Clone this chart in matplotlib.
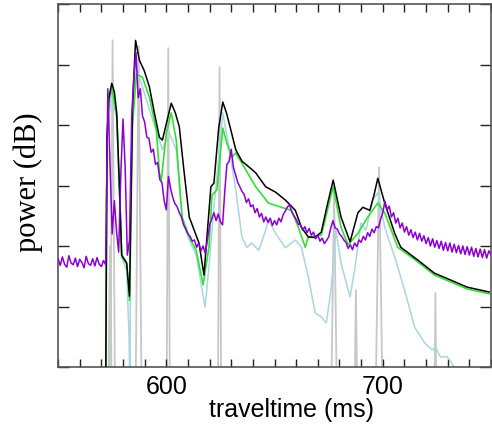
import numpy as np
import matplotlib.pyplot as plt
from matplotlib.ticker import MultipleLocator, NullFormatter

# --- data (traveltime in ms, power in dB) ---
black_t = [572.0, 572.6, 573.5, 574.8, 576.0, 577.1, 578.4, 579.4, 581.7, 583.0,
           584.4, 585.8, 587.6, 589.8, 592.2, 594.5, 596.8, 598.2, 600.2, 602.3,
           604.2, 606.0, 608.3, 610.6, 615.1, 617.4, 620.6, 622.0, 624.2, 626.1,
           627.8, 629.8, 632.1, 635.0, 638.1, 641.3, 645.9, 650.5, 655.0, 659.6,
           662.4, 665.6, 668.5, 671.6, 674.5, 677.1, 680.7, 684.9, 688.5, 690.8,
           694.0, 696.0, 697.7, 700.9, 705.5, 708.3, 716.1, 723.9, 731.2, 739.0,
           749.1]
black_db = [-5.0, 38.0, 44.5, 46.9, 45.5, 42.0, 29.3, 18.5, 17.2, 11.7,
            43.0, 54.0, 50.7, 49.0, 46.3, 42.0, 38.0, 37.5, 40.5, 43.6,
            42.0, 39.7, 32.0, 24.8, 20.5, 15.2, 29.8, 30.4, 39.5, 43.8,
            42.0, 39.2, 35.9, 34.0, 33.1, 32.1, 29.8, 28.9, 27.6, 25.9,
            23.1, 21.5, 21.4, 22.3, 27.0, 30.9, 24.8, 20.7, 25.5, 26.4,
            25.9, 28.5, 31.2, 27.1, 22.1, 19.8, 17.7, 15.5, 14.4, 13.2,
            12.4]

green_t = [572.0, 572.6, 573.5, 574.8, 577.1, 578.4, 579.4, 581.7, 583.0, 584.4,
           586.2, 589.0, 592.2, 595.4, 596.8, 597.7, 600.0, 602.3, 604.6, 607.3,
           610.6, 613.8, 617.0, 619.7, 621.1, 623.4, 626.1, 628.0, 630.3, 632.1,
           634.9, 641.3, 647.2, 653.2, 657.8, 661.0, 664.2, 665.6, 671.6, 674.5,
           677.1, 680.7, 684.0, 688.5, 693.1, 697.7, 700.9, 706.9, 716.1, 723.9,
           739.0, 749.1]
green_db = [-5.0, 38.0, 44.0, 46.0, 41.5, 29.0, 18.3, 17.0, 11.0, 40.0,
            48.4, 47.9, 44.6, 39.2, 32.1, 30.9, 38.7, 42.0, 37.5, 24.8,
            21.5, 19.3, 13.6, 19.8, 28.4, 29.3, 39.5, 37.0, 34.7, 35.4,
            33.7, 29.8, 27.1, 26.4, 25.9, 23.1, 19.8, 21.5, 21.8, 26.0,
            29.8, 23.1, 20.2, 22.1, 24.8, 27.1, 25.5, 19.8, 17.4, 15.2,
            12.9, 12.1]

blue_t = [572.0, 572.6, 574.8, 577.1, 578.4, 579.4, 581.7, 582.8, 583.2, 583.6,
          584.4, 585.8, 587.6, 592.2, 598.2, 601.4, 604.6, 607.3, 610.6, 613.8,
          617.9, 619.7, 622.0, 626.1, 628.9, 632.1, 634.9, 637.2, 639.4, 642.7,
          645.9, 647.2, 650.5, 655.0, 659.6, 662.4, 665.6, 668.8, 671.6, 673.9,
          676.1, 678.0, 678.4, 680.7, 684.9, 687.2, 689.9, 692.2, 695.4, 697.7,
          700.9, 705.5, 710.1, 714.7, 719.3, 722.9, 724.3, 726.6, 729.8, 733.0,
          734.4]
blue_db = [-5.0, 38.0, 45.5, 41.0, 28.5, 18.0, 16.0, 5.0, -5.0, 30.0,
           42.0, 50.0, 47.9, 42.5, 35.9, 38.7, 35.9, 24.3, 21.0, 18.5,
           9.9, 16.5, 26.4, 42.0, 36.4, 29.3, 21.5, 19.8, 20.5, 19.3,
           22.6, 24.3, 22.1, 19.7, 21.0, 19.8, 14.9, 8.9, 8.3, 7.3,
           12.7, 21.0, 22.6, 17.2, 11.6, 16.5, 23.8, 22.6, 27.6, 28.8,
           23.1, 18.2, 12.7, 6.6, 4.0, 2.8, 3.3, 1.7, 1.7, 0.0,
           -1.0]

# narrow grey spikes: centre, peak height, half width
spike_t = [574.0, 575.2, 587.2, 600.9, 624.6, 677.5, 687.6, 698.3, 724.3]
spike_db = [20.0, 54.0, 53.0, 52.7, 49.6, 29.0, 12.7, 33.0, 12.2]
spike_hw = [1.0, 1.2, 1.5, 0.8, 0.8, 1.5, 0.8, 1.8, 0.5]

# noisy purple trace, one sample per ms from 550 ms
purple_db = [
    17.9, 16.8, 18.2, 17.0, 16.5, 18.4, 17.2, 16.9, 18.0, 16.6,   # 550
    17.8, 17.3, 16.4, 18.3, 17.1, 16.8, 17.9, 16.7, 18.1, 17.0,   # 560
    16.6, 17.6, 16.9, 46.0, 33.5, 22.0, 27.5, 22.5, 19.0, 32.0,   # 570
    41.0, 33.0, 18.5, 21.0, 41.0, 48.0, 52.0, 44.5, 46.0, 41.5,   # 580
    40.5, 38.0, 37.8, 35.5, 36.0, 33.5, 33.8, 31.0, 30.5, 27.5,   # 590
    26.0, 31.5, 29.5, 28.0, 27.0, 26.5, 25.5, 24.8, 23.5, 22.8,   # 600
    22.0, 21.6, 20.8, 21.0, 19.8, 20.5, 19.2, 20.0, 18.8, 21.0,   # 610
    23.5, 24.5, 25.5, 24.2, 25.3, 24.0, 23.5, 29.0, 33.5, 34.0,   # 620
    36.0, 33.0, 31.8, 30.5, 29.8, 29.0, 28.5, 27.2, 27.8, 26.5,   # 630
    26.8, 25.5, 26.2, 24.8, 25.4, 24.0, 24.8, 23.9, 24.6, 23.4,   # 640
    24.2, 23.5, 24.6, 24.0, 25.2, 25.8, 26.5, 26.8, 25.6, 25.0,   # 650
    24.4, 23.6, 23.5, 22.6, 23.2, 22.2, 22.9, 21.8, 22.3, 21.2,   # 660
    21.8, 20.8, 21.3, 20.4, 20.9, 21.5, 23.0, 24.2, 23.0, 22.8,   # 670
    22.0, 21.6, 21.0, 20.6, 19.6, 20.2, 19.4, 20.5, 19.9, 21.0,   # 680
    20.6, 21.6, 21.0, 22.2, 21.6, 22.8, 22.2, 23.2, 23.0, 24.4,   # 690
    25.5, 27.4, 26.0, 26.6, 24.8, 25.5, 23.8, 24.6, 23.0, 23.8,   # 700
    22.3, 23.2, 21.8, 22.7, 21.4, 22.3, 21.0, 22.1, 20.8, 21.7,   # 710
    20.4, 21.4, 20.0, 21.2, 19.8, 20.9, 19.6, 20.8, 19.3, 20.6,   # 720
    19.2, 20.5, 19.0, 20.3, 18.9, 20.1, 18.7, 20.0, 18.6, 19.9,   # 730
    18.5, 19.8, 18.3, 19.6, 18.2, 19.5, 18.1, 19.4, 18.0, 19.2,   # 740
    18.6,
]
purple_t = 550 + np.arange(len(purple_db))

# build the spike trace from the spike table
floor = -10.0
gt, gv = [550.0], [floor]
for c, h, w in zip(spike_t, spike_db, spike_hw):
    gt += [c - w, c, c + w]
    gv += [floor, h, floor]
gt.append(750.0)
gv.append(floor)

fig = plt.figure(figsize=(4.92, 4.28), dpi=100)
ax = fig.add_axes([0.118, 0.1425, 0.880, 0.848])

ax.plot(gt, gv, color="#c8c8c8", lw=1.3, zorder=1)
ax.plot(blue_t, blue_db, color="#a9d6e0", lw=1.1, zorder=2)
ax.plot(green_t, green_db, color="#33e033", lw=1.2, zorder=3)
ax.plot(black_t, black_db, color="black", lw=1.1, zorder=4)
ax.plot(purple_t, purple_db, color="#8c00d4", lw=1.1, zorder=5)

ax.set_xlim(550, 750)
ax.set_ylim(0, 60)

ax.xaxis.set_major_locator(MultipleLocator(100))
ax.xaxis.set_minor_locator(MultipleLocator(10))
ax.yaxis.set_major_locator(MultipleLocator(10))
ax.yaxis.set_major_formatter(NullFormatter())
ax.tick_params(axis="x", which="both", direction="in", top=True,
               length=6, width=1, color="#222222", labelsize=18, pad=6)
ax.tick_params(axis="y", which="both", direction="in", right=True,
               length=8, width=1, color="#222222")
for lab in ax.get_xticklabels():
    lab.set_family("Liberation Sans")

for s in ax.spines.values():
    s.set_color("#555555")
    s.set_linewidth(1.2)

ax.set_xlabel("traveltime (ms)", family="Liberation Sans", fontsize=18)
ax.xaxis.set_label_coords(0.54, -0.085)
ax.set_ylabel("power (dB)", family="Liberation Serif", fontsize=22)
ax.yaxis.set_label_coords(-0.035, 0.51)

plt.savefig("out.png", dpi=100, facecolor="white")
